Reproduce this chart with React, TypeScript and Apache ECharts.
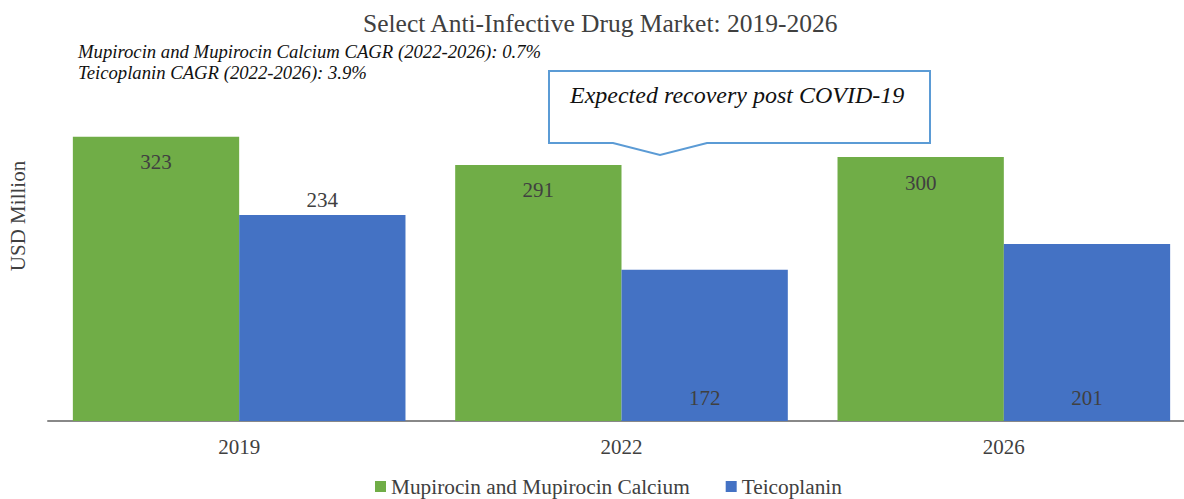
import React, { useEffect, useRef } from "react";
import * as echarts from "echarts";

const categories = ["2019", "2022", "2026"];
const mupirocin = [323, 291, 300];
const teicoplanin = [234, 172, 201];
const mupLabelPos = ["insideTop", "insideTop", "insideTop"];
const teiLabelPos = ["top", "insideBottom", "insideBottom"];
const titleText = "Select Anti-Infective Drug Market: 2019-2026";
const noteLines = [
  "Mupirocin and Mupirocin Calcium CAGR (2022-2026): 0.7%",
  "Teicoplanin CAGR (2022-2026): 3.9%",
];
const calloutText = "Expected recovery post COVID-19";
const seriesNames = ["Mupirocin and Mupirocin Calcium", "Teicoplanin"];

const FONT = "Liberation Serif";

export default function App() {
  const ref = useRef<HTMLDivElement>(null);
  useEffect(() => {
    document.body.style.margin = "0";
    document.body.style.overflow = "hidden";
    document.documentElement.style.overflow = "hidden";
    const chart = echarts.init(ref.current!, null, { renderer: "svg" });
    const mkData = (vals: number[], pos: string[]) =>
      vals.map((v, i) => ({
        value: v,
        label: {
          position: pos[i],
          distance: pos[i] === "top" ? 5 : pos[i] === "insideTop" ? 15 : 13,
        },
      }));
    const labelStyle = {
      show: true,
      fontFamily: FONT,
      fontSize: 21,
      color: "#404040",
    };
    chart.setOption({
      animation: false,
      textStyle: { fontFamily: FONT },
      title: {
        text: titleText,
        left: 358,
        top: 5,
        textStyle: { fontFamily: FONT, fontSize: 25.5, fontWeight: "normal", color: "#404040" },
      },
      legend: {
        bottom: -3,
        left: 370,
        itemWidth: 11,
        itemHeight: 11,
        itemGap: 36,
        icon: "rect",
        textStyle: { fontFamily: FONT, fontSize: 21.3, color: "#404040" },
        data: seriesNames,
      },
      grid: { left: 48, right: 0, top: 69, bottom: 78 },
      xAxis: {
        type: "category",
        data: categories,
        axisLine: { lineStyle: { color: "#888888", width: 2 } },
        axisTick: { show: false },
        axisLabel: { fontFamily: FONT, fontSize: 21, color: "#404040", margin: 15 },
      },
      yAxis: {
        type: "value",
        min: 0,
        max: 400,
        show: false,
        splitLine: { show: false },
      },
      graphic: [
        {
          type: "text",
          x: 18,
          y: 216,
          rotation: Math.PI / 2,
          style: {
            text: "USD Million",
            fontFamily: FONT,
            fontSize: 21,
            fill: "#404040",
            align: "center",
            verticalAlign: "middle",
          },
        },
        {
          type: "text",
          x: 78,
          y: 41,
          style: {
            text: noteLines.join("\n"),
            fontFamily: FONT,
            fontStyle: "italic",
            fontSize: 18.7,
            fill: "#111111",
            lineHeight: 21,
          },
        },
        {
          type: "polygon",
          shape: {
            points: [
              [549, 71],
              [930, 71],
              [930, 143],
              [707, 143],
              [660, 155],
              [613, 143],
              [549, 143],
            ],
          },
          style: { fill: "#ffffff", stroke: "#5b9bd5", lineWidth: 2 },
        },
        {
          type: "text",
          x: 570,
          y: 83,
          style: {
            text: calloutText,
            fontFamily: FONT,
            fontStyle: "italic",
            fontSize: 24,
            fill: "#111111",
          },
        },
      ],
      series: [
        {
          name: seriesNames[0],
          type: "bar",
          data: mkData(mupirocin, mupLabelPos),
          barGap: "0%",
          barCategoryGap: "13%",
          itemStyle: { color: "#70ad47" },
          label: labelStyle,
        },
        {
          name: seriesNames[1],
          type: "bar",
          data: mkData(teicoplanin, teiLabelPos),
          itemStyle: { color: "#4472c4" },
          label: labelStyle,
        },
      ],
    });
    return () => chart.dispose();
  }, []);
  return <div ref={ref} style={{ width: 1195, height: 499 }} />;
}
